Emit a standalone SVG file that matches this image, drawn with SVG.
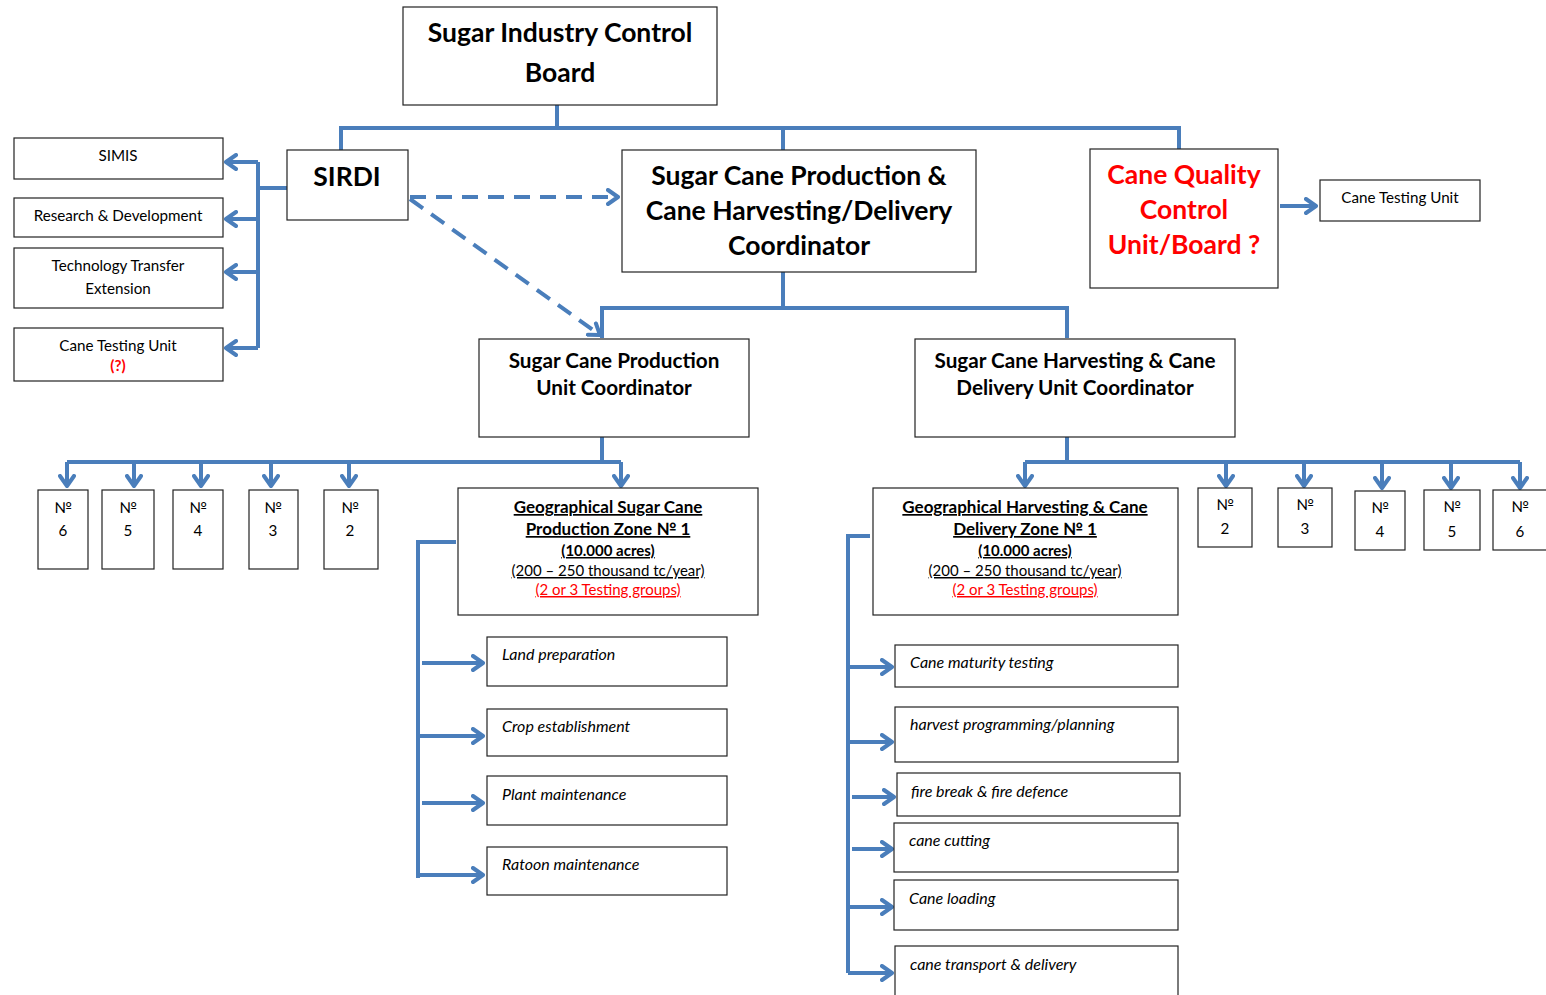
<svg xmlns="http://www.w3.org/2000/svg" width="1546" height="995" viewBox="0 0 1546 995">
<style>
.box{fill:#fff;stroke:#222;stroke-width:1.2}
.ln{fill:none;stroke:#4a7ebb;stroke-width:4}
.arr{fill:none;stroke:#4a7ebb;stroke-width:4;marker-end:url(#ah)}
.dash{fill:none;stroke:#4a7ebb;stroke-width:4;stroke-dasharray:16,10;marker-end:url(#ah)}
text{font-family:Lato,"Liberation Sans",sans-serif;fill:#000;text-anchor:middle}
.big{font-size:26.5px;font-weight:bold}
.mid{font-size:20.7px;font-weight:bold}
.sm{font-size:15.2px}
.zn{font-size:17px}
.zr{font-size:15px}
.b{font-weight:bold}
.u{text-decoration:underline}
.red{fill:#f00}
.task{font-size:16px;font-style:italic;text-anchor:start}
</style>
<defs>
<marker id="ah" viewBox="0 0 14 18" refX="12" refY="9" markerWidth="14" markerHeight="18" orient="auto" markerUnits="userSpaceOnUse">
<path d="M2,2 L12,9 L2,16" fill="none" stroke="#4a7ebb" stroke-width="4" stroke-linecap="round" stroke-linejoin="round"/>
</marker>
</defs>

<g id="connectors">
<path class="ln" d="M557,105 V128 M341,150 V128 H1179 V150 M783,128 V150"/>
<path class="ln" d="M287,188 H258 M258,162 V348"/>
<path class="arr" d="M258,162 H226"/>
<path class="arr" d="M258,219 H226"/>
<path class="arr" d="M258,272 H226"/>
<path class="arr" d="M258,348 H226"/>
<path class="dash" d="M410,197 H618"/>
<path class="dash" d="M410,199 L600,335"/>
<path class="arr" d="M1280,206 H1316"/>
<path class="ln" d="M783,272 V308 M602,338 V308 H1067 V338"/>
<path class="ln" d="M602,437 V462 M67,462 H621"/>
<path class="arr" d="M67,462 V486"/>
<path class="arr" d="M134,462 V486"/>
<path class="arr" d="M201,462 V486"/>
<path class="arr" d="M271,462 V486"/>
<path class="arr" d="M349,462 V486"/>
<path class="arr" d="M621,462 V486"/>
<path class="ln" d="M1067,437 V462 M1025,462 H1520"/>
<path class="arr" d="M1025,462 V486"/>
<path class="arr" d="M1226,462 V486"/>
<path class="arr" d="M1304,462 V486"/>
<path class="arr" d="M1382,462 V488"/>
<path class="arr" d="M1451,462 V488"/>
<path class="arr" d="M1520,462 V488"/>
<path class="ln" d="M456,542 H418 V878"/>
<path class="arr" d="M422,663 H483"/>
<path class="arr" d="M418,736 H483"/>
<path class="arr" d="M422,803 H483"/>
<path class="arr" d="M418,875 H483"/>
<path class="ln" d="M870,536 H848 V973"/>
<path class="arr" d="M848,667 H892"/>
<path class="arr" d="M848,742 H892"/>
<path class="arr" d="M852,797 H894"/>
<path class="arr" d="M852,849 H892"/>
<path class="arr" d="M848,907 H892"/>
<path class="arr" d="M848,973 H892"/>
</g>

<g id="board"><rect class="box" x="403" y="7" width="314" height="98"/>
<text class="big" x="560" y="42">Sugar Industry Control</text><text class="big" x="560" y="82">Board</text></g>

<g id="sirdi"><rect class="box" x="287" y="150" width="121" height="70"/><text class="big" x="347" y="186">SIRDI</text></g>

<g id="simis"><rect class="box" x="14" y="138" width="209" height="41"/><text class="sm" x="118" y="161">SIMIS</text></g>
<g id="rd"><rect class="box" x="14" y="198" width="209" height="39"/><text class="sm" x="118" y="221">Research &amp;  Development</text></g>
<g id="tt"><rect class="box" x="14" y="248" width="209" height="60"/><text class="sm" x="118" y="271">Technology Transfer</text><text class="sm" x="118" y="294">Extension</text></g>
<g id="ctu-left"><rect class="box" x="14" y="328" width="209" height="53"/><text class="sm" x="118" y="351">Cane Testing Unit</text><text class="sm b red" x="118" y="371">(?)</text></g>

<g id="coord"><rect class="box" x="622" y="150" width="354" height="122"/>
<text class="big" x="799" y="185">Sugar Cane Production &amp;</text>
<text class="big" x="799" y="220">Cane Harvesting/Delivery</text>
<text class="big" x="799" y="255">Coordinator</text></g>

<g id="cq"><rect class="box" x="1090" y="149" width="188" height="139"/>
<text class="big red" x="1184" y="184">Cane Quality</text>
<text class="big red" x="1184" y="219">Control</text>
<text class="big red" x="1184" y="254">Unit/Board ?</text></g>

<g id="ctu-right"><rect class="box" x="1320" y="180" width="160" height="41"/><text class="sm" x="1400" y="203">Cane Testing Unit</text></g>

<g id="prod-coord"><rect class="box" x="479" y="339" width="270" height="98"/>
<text class="mid" x="614" y="368">Sugar Cane Production</text><text class="mid" x="614" y="395">Unit Coordinator</text></g>

<g id="harv-coord"><rect class="box" x="915" y="339" width="320" height="98"/>
<text class="mid" x="1075" y="368">Sugar Cane Harvesting &amp; Cane</text><text class="mid" x="1075" y="395">Delivery Unit Coordinator</text></g>

<g id="p6"><rect class="box" x="38" y="490" width="50" height="79"/><text class="sm" x="63" y="513">№</text><text class="sm" x="63" y="536">6</text></g>
<g id="p5"><rect class="box" x="102" y="490" width="52" height="79"/><text class="sm" x="128" y="513">№</text><text class="sm" x="128" y="536">5</text></g>
<g id="p4"><rect class="box" x="173" y="490" width="50" height="79"/><text class="sm" x="198" y="513">№</text><text class="sm" x="198" y="536">4</text></g>
<g id="p3"><rect class="box" x="249" y="490" width="49" height="79"/><text class="sm" x="273" y="513">№</text><text class="sm" x="273" y="536">3</text></g>
<g id="p2"><rect class="box" x="324" y="490" width="54" height="79"/><text class="sm" x="350" y="513">№</text><text class="sm" x="350" y="536">2</text></g>

<g id="prod-zone"><rect class="box" x="458" y="488" width="300" height="127"/>
<text class="zn b u" x="608" y="513">Geographical Sugar Cane</text>
<text class="zn b u" x="608" y="535">Production Zone № 1</text>
<text class="zr b u" x="608" y="556">(10.000 acres)</text>
<text class="zr u" x="608" y="576">(200 – 250 thousand tc/year)</text>
<text class="zr u red" x="608" y="595">(2 or 3 Testing groups)</text></g>

<g id="harv-zone"><rect class="box" x="873" y="488" width="305" height="127"/>
<text class="zn b u" x="1025" y="513">Geographical Harvesting &amp; Cane</text>
<text class="zn b u" x="1025" y="535">Delivery Zone № 1</text>
<text class="zr b u" x="1025" y="556">(10.000 acres)</text>
<text class="zr u" x="1025" y="576">(200 – 250 thousand tc/year)</text>
<text class="zr u red" x="1025" y="595">(2 or 3 Testing groups)</text></g>

<g id="h2"><rect class="box" x="1198" y="488" width="54" height="59"/><text class="sm" x="1225" y="510">№</text><text class="sm" x="1225" y="534">2</text></g>
<g id="h3"><rect class="box" x="1278" y="488" width="54" height="59"/><text class="sm" x="1305" y="510">№</text><text class="sm" x="1305" y="534">3</text></g>
<g id="h4"><rect class="box" x="1355" y="491" width="50" height="59"/><text class="sm" x="1380" y="513">№</text><text class="sm" x="1380" y="537">4</text></g>
<g id="h5"><rect class="box" x="1424" y="490" width="56" height="60"/><text class="sm" x="1452" y="512">№</text><text class="sm" x="1452" y="537">5</text></g>
<g id="h6"><rect class="box" x="1493" y="490" width="56" height="60"/><text class="sm" x="1520" y="512">№</text><text class="sm" x="1520" y="537">6</text></g>

<g id="t-land"><rect class="box" x="487" y="637" width="240" height="49"/><text class="task" x="502" y="660">Land preparation</text></g>
<g id="t-crop"><rect class="box" x="487" y="709" width="240" height="47"/><text class="task" x="502" y="732">Crop establishment</text></g>
<g id="t-plant"><rect class="box" x="487" y="776" width="240" height="49"/><text class="task" x="502" y="800">Plant maintenance</text></g>
<g id="t-ratoon"><rect class="box" x="487" y="847" width="240" height="48"/><text class="task" x="502" y="870">Ratoon maintenance</text></g>

<g id="t-maturity"><rect class="box" x="895" y="645" width="283" height="42"/><text class="task" x="910" y="668">Cane maturity testing</text></g>
<g id="t-harvest"><rect class="box" x="895" y="707" width="283" height="55"/><text class="task" x="910" y="730">harvest programming/planning</text></g>
<g id="t-fire"><rect class="box" x="897" y="773" width="283" height="43"/><text class="task" x="911" y="797">fire break &amp; fire defence</text></g>
<g id="t-cutting"><rect class="box" x="894" y="823" width="284" height="49"/><text class="task" x="909" y="846">cane cutting</text></g>
<g id="t-loading"><rect class="box" x="894" y="880" width="284" height="50"/><text class="task" x="909" y="904">Cane loading</text></g>
<g id="t-transport"><rect class="box" x="895" y="946" width="283" height="52"/><text class="task" x="910" y="970">cane transport &amp; delivery</text></g>
</svg>
